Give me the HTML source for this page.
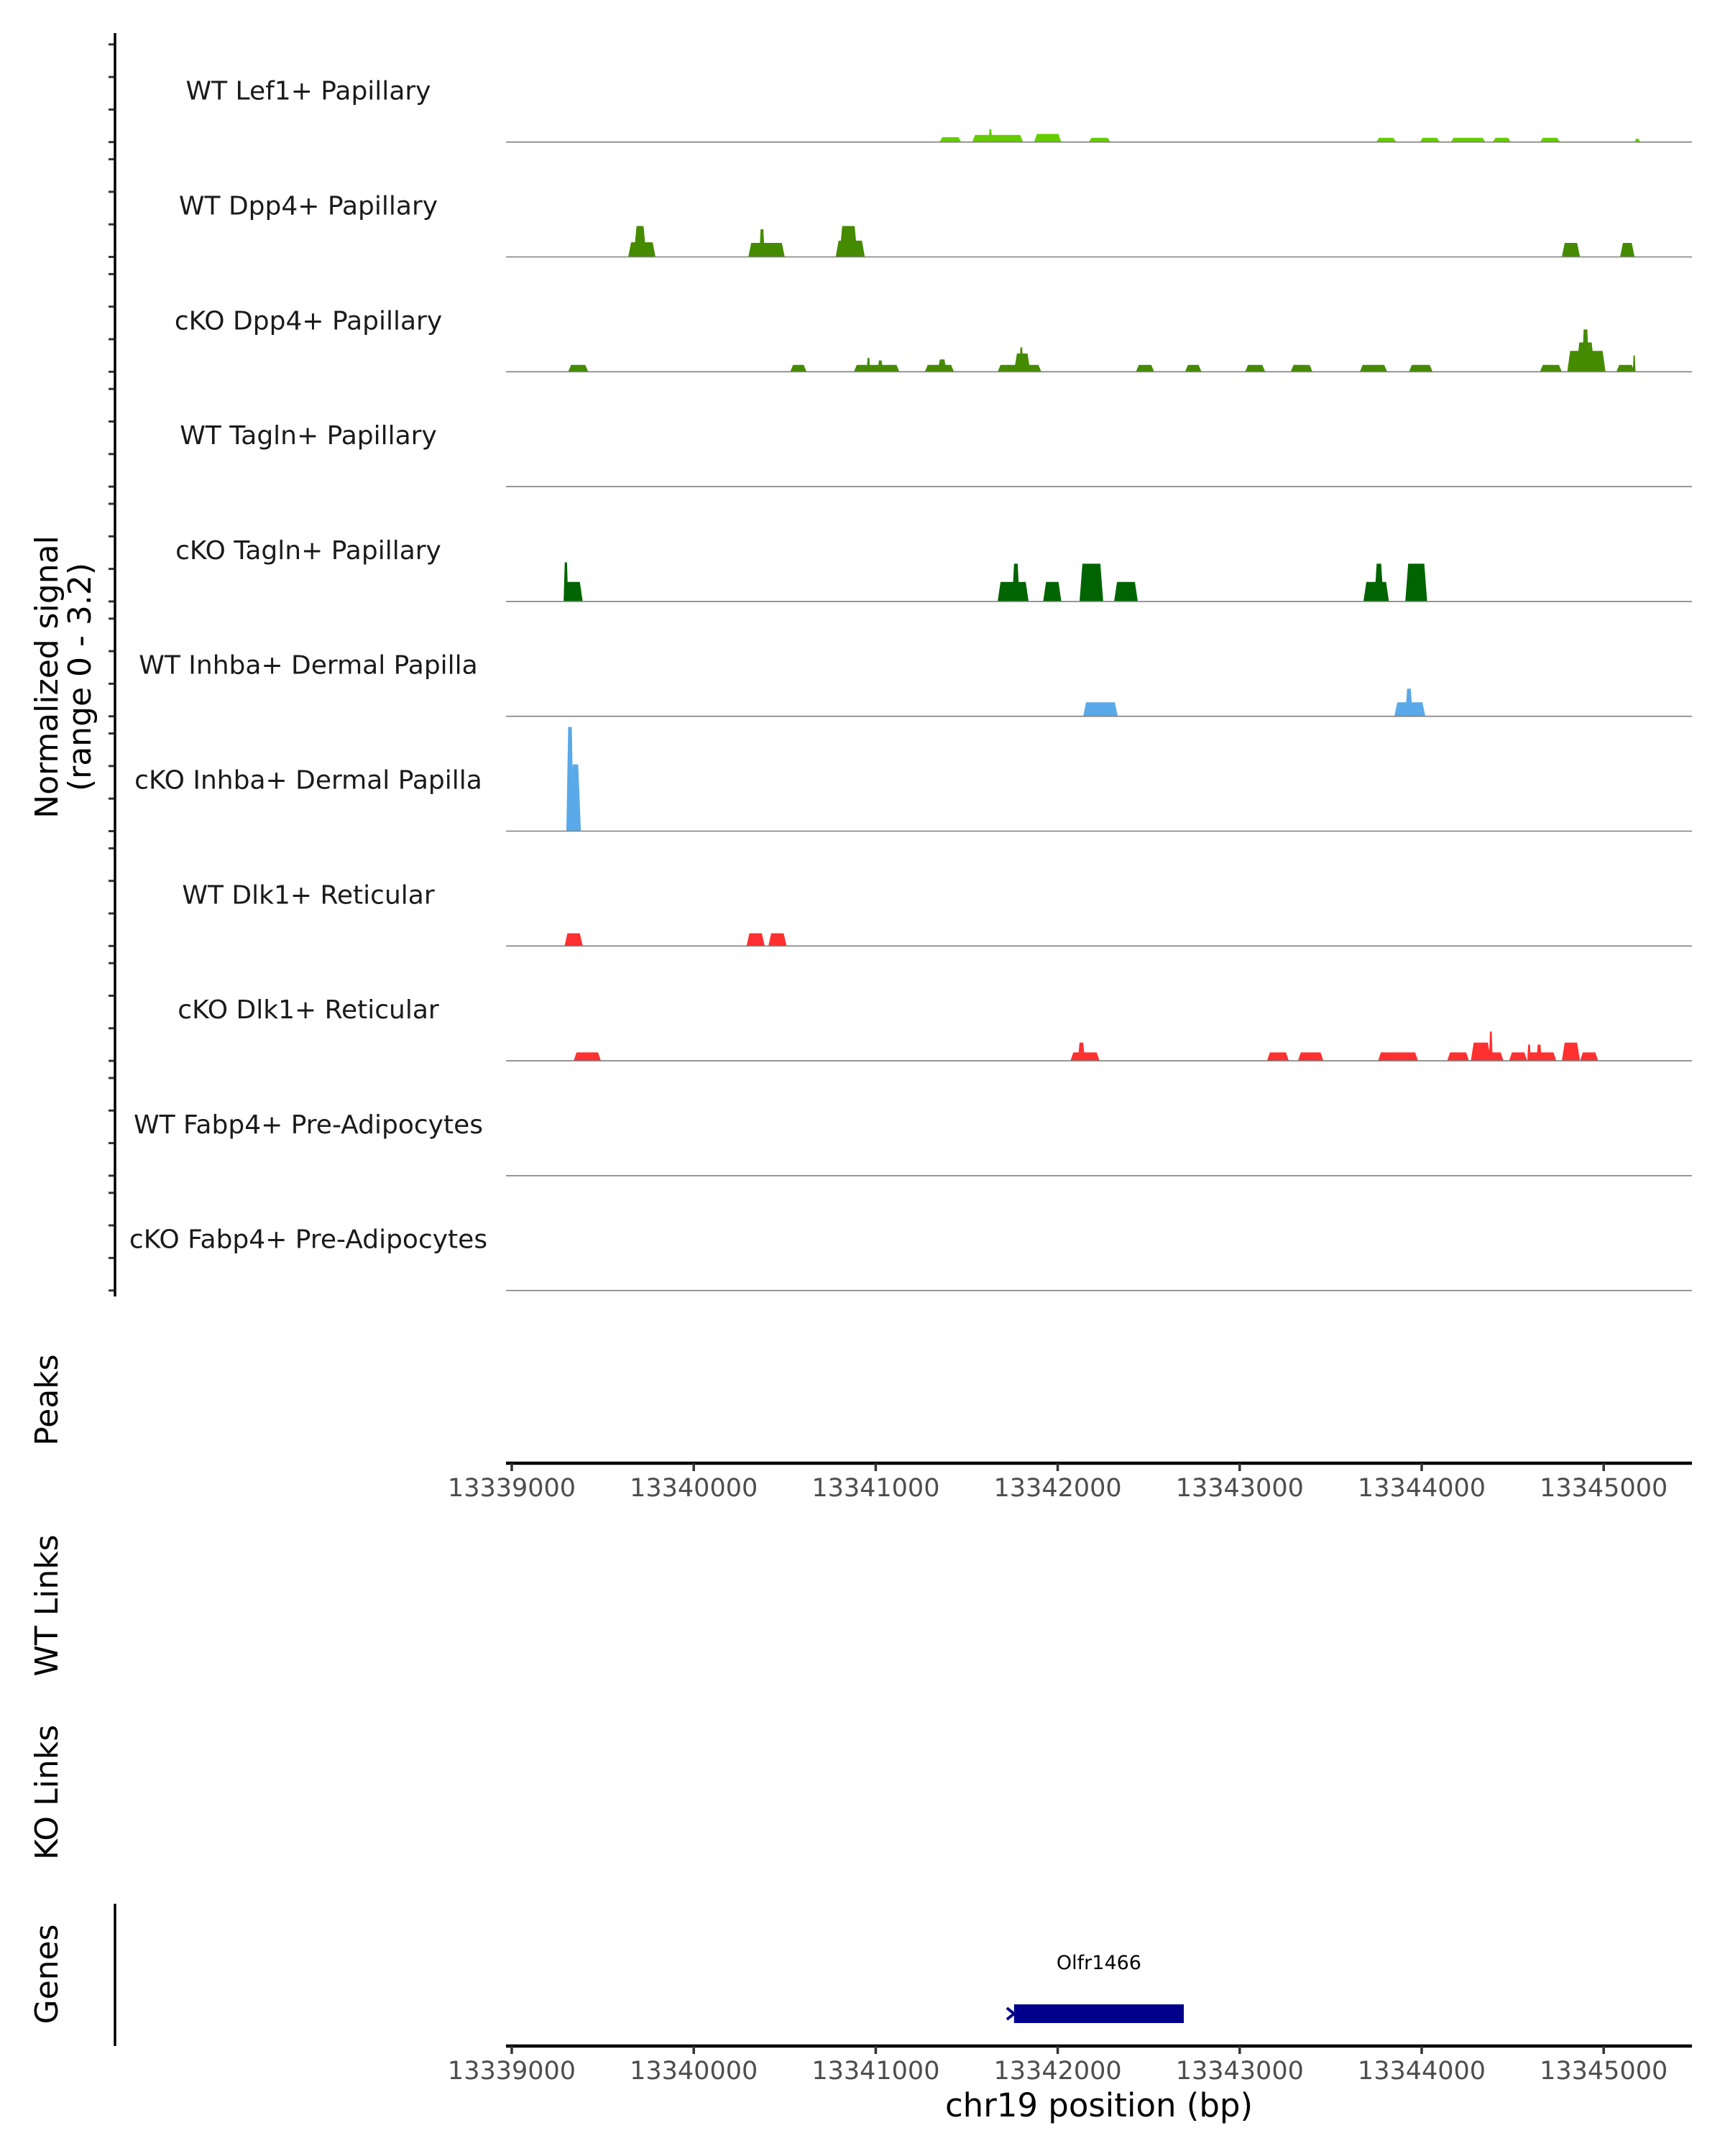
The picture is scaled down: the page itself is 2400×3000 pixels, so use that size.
<!DOCTYPE html>
<html><head><meta charset="utf-8"><style>
html,body{margin:0;padding:0;background:#fff;}
svg{display:block;font-family:"DejaVu Sans","Liberation Sans",sans-serif;}
</style></head><body>
<svg id="chart" width="2400" height="3000" viewBox="0 0 2400 3000" xmlns="http://www.w3.org/2000/svg">
<g id="tracks"></g>
<g id="axes"></g>
</svg>
<script>
const trackNames = ["WT Lef1+ Papillary","WT Dpp4+ Papillary","cKO Dpp4+ Papillary","WT Tagln+ Papillary","cKO Tagln+ Papillary","WT Inhba+ Dermal Papilla","cKO Inhba+ Dermal Papilla","WT Dlk1+ Reticular","cKO Dlk1+ Reticular","WT Fabp4+ Pre-Adipocytes","cKO Fabp4+ Pre-Adipocytes"];
const trackColors = ["#66CC00","#458B00","#458B00","#006400","#006400","#5AA9E8","#5AA9E8","#FF3030","#FF3030","#8A2BE2","#8A2BE2"];
// peaks: [start bp, end bp, normalized value]
const peaksLef1WT = [[13341350,13341470,0.15],[13341530,13341810,0.22],[13341620,13341640,0.4],[13341870,13342020,0.25],[13342170,13342290,0.13],[13343750,13343860,0.13],[13343990,13344100,0.13],[13344160,13344350,0.13],[13344390,13344490,0.13],[13344650,13344760,0.13],[13345170,13345200,0.1]];
const peaksDpp4WT = [[13339640,13339790,0.45],[13339670,13339740,0.95],[13340300,13340500,0.43],[13340360,13340390,0.85],[13340780,13340940,0.5],[13340800,13340900,0.95],[13344770,13344870,0.43],[13345090,13345170,0.43]];
const peaksDpp4KO = [[13339310,13339420,0.21],[13340530,13340620,0.21],[13340880,13341130,0.21],[13340950,13340970,0.43],[13341010,13341040,0.35],[13341270,13341430,0.21],[13341340,13341390,0.38],[13341670,13341910,0.21],[13341760,13341850,0.56],[13341790,13341810,0.75],[13342430,13342530,0.21],[13342700,13342790,0.21],[13343030,13343140,0.21],[13343280,13343400,0.21],[13343660,13343810,0.21],[13343930,13344060,0.21],[13344650,13344770,0.21],[13344800,13345010,0.64],[13344850,13344950,0.9],[13344880,13344920,1.3],[13345070,13345170,0.21],[13345160,13345175,0.5]];
const peaksTaglnWT = [];
const peaksTaglnKO = [[13339290,13339390,0.6],[13339285,13339310,1.2],[13341670,13341840,0.6],[13341750,13341790,1.16],[13341920,13342020,0.6],[13342120,13342250,1.16],[13342310,13342440,0.6],[13343680,13343820,0.6],[13343740,13343790,1.16],[13343910,13344030,1.16]];
const peaksInhbaWT = [[13342140,13342330,0.43],[13343850,13344020,0.43],[13343910,13343950,0.85]];
const peaksInhbaKO = [[13339300,13339340,3.2],[13339320,13339380,2.05]];
const peaksDlk1WT = [[13339290,13339390,0.39],[13340290,13340390,0.39],[13340410,13340510,0.39]];
const peaksDlk1KO = [[13339340,13339490,0.26],[13342070,13342230,0.26],[13342110,13342150,0.56],[13343150,13343270,0.26],[13343320,13343460,0.26],[13343760,13343980,0.26],[13344140,13344260,0.26],[13344270,13344380,0.56],[13344370,13344390,0.9],[13344270,13344450,0.26],[13344480,13344580,0.26],[13344580,13344740,0.26],[13344580,13344600,0.5],[13344630,13344660,0.5],[13344770,13344870,0.56],[13344870,13344970,0.26]];
const peaksFabp4WT = [];
const peaksFabp4KO = [];
const xTicks = [13339000,13340000,13341000,13342000,13343000,13344000,13345000];
const yTicks = [0,1,2,3];
const geneName = "Olfr1466";
const geneStart = 13341760;
const geneEnd = 13342693;

const allPeaks = [peaksLef1WT,peaksDpp4WT,peaksDpp4KO,peaksTaglnWT,peaksTaglnKO,peaksInhbaWT,peaksInhbaKO,peaksDlk1WT,peaksDlk1KO,peaksFabp4WT,peaksFabp4KO];
const NS="http://www.w3.org/2000/svg";
const X0=712, PX=0.2532, PL=704, PR=2354;
function xs(bp){return X0+(bp-13339000)*PX;}
const BASE0=197.7, STEP=159.8, UNIT=45.3;
function ys(i,v){return BASE0+i*STEP-v*UNIT;}
function mk(tag,attrs,parent){const e=document.createElementNS(NS,tag);for(const k in attrs)e.setAttribute(k,attrs[k]);parent.appendChild(e);return e;}
const tg=document.getElementById('tracks'), ag=document.getElementById('axes');

trackNames.forEach((name,i)=>{
  const base=ys(i,0);
  const lab=mk('text',{x:429,y:base-59,'text-anchor':'middle','font-size':36,fill:'#1a1a1a'},tg);
  lab.textContent=name;
  
  
  allPeaks[i].forEach(p=>{
    const a=xs(p[0]), b=xs(p[1]), t=ys(i,p[2]);
    const s=Math.min(4,(b-a)/4);
    const poly=mk('polygon',{points:`${a},${base} ${a+s},${t} ${b-s},${t} ${b},${base}`,fill:trackColors[i]},tg);
    
    
  });
  const ln=mk('line',{x1:PL,x2:PR,y1:base,y2:base,stroke:'#7f7f7f','stroke-width':1.6},tg);
  
  
  yTicks.forEach(v=>{
    const tk=mk('line',{x1:151,x2:159,y1:ys(i,v),y2:ys(i,v),stroke:'#333','stroke-width':3},ag);
    
    
  });
});
const yl=mk('line',{x1:160,x2:160,y1:46,y2:1804,stroke:'#000','stroke-width':3.5},ag);



function xAxis(y,name){
  const l=mk('line',{x1:PL,x2:PR,y1:y,y2:y,stroke:'#000','stroke-width':4.5},ag);
  
  
  xTicks.forEach(t=>{
    const tk=mk('line',{x1:xs(t),x2:xs(t),y1:y,y2:y+11,stroke:'#333','stroke-width':3.5},ag);
    
    
    const tx=mk('text',{x:xs(t),y:y+46,'text-anchor':'middle','font-size':35,fill:'#4d4d4d'},ag);
    tx.textContent=t;
    
    
  });
}
xAxis(2036,'peaks-x-axis');
xAxis(2847,'genes-x-axis');

const gl=mk('line',{x1:160,x2:160,y1:2649,y2:2847,stroke:'#000','stroke-width':3.5},ag);



const gr=mk('rect',{x:xs(geneStart),y:2789,width:xs(geneEnd)-xs(geneStart),height:26,fill:'#00008B'},ag);


const ga=mk('path',{d:`M${xs(geneStart)-10},2794 L${xs(geneStart)},2802 L${xs(geneStart)-10},2810`,stroke:'#00008B','stroke-width':4,fill:'none'},ag);


const gt=mk('text',{x:(xs(geneStart)+xs(geneEnd))/2,y:2740,'text-anchor':'middle','font-size':27,fill:'#000'},ag);
gt.textContent=geneName;



const xt=mk('text',{x:1529,y:2945,'text-anchor':'middle','font-size':45,fill:'#000'},ag);
xt.textContent='chr19 position (bp)';



function vTitle(txt,x,y,name){
  const t=mk('text',{x:x,y:y,'text-anchor':'middle','font-size':44,fill:'#000',transform:`rotate(-90 ${x} ${y})`},ag);
  t.textContent=txt;
  
  
}
vTitle('Normalized signal',80,942,'y-axis-title');
vTitle('(range 0 - 3.2)',126,942,'y-axis-subtitle');
vTitle('Peaks',80,1948,'peaks-title');
vTitle('WT Links',80,2234,'wt-links-title');
vTitle('KO Links',80,2494,'ko-links-title');
vTitle('Genes',80,2747,'genes-title');
</script>
</body></html>
